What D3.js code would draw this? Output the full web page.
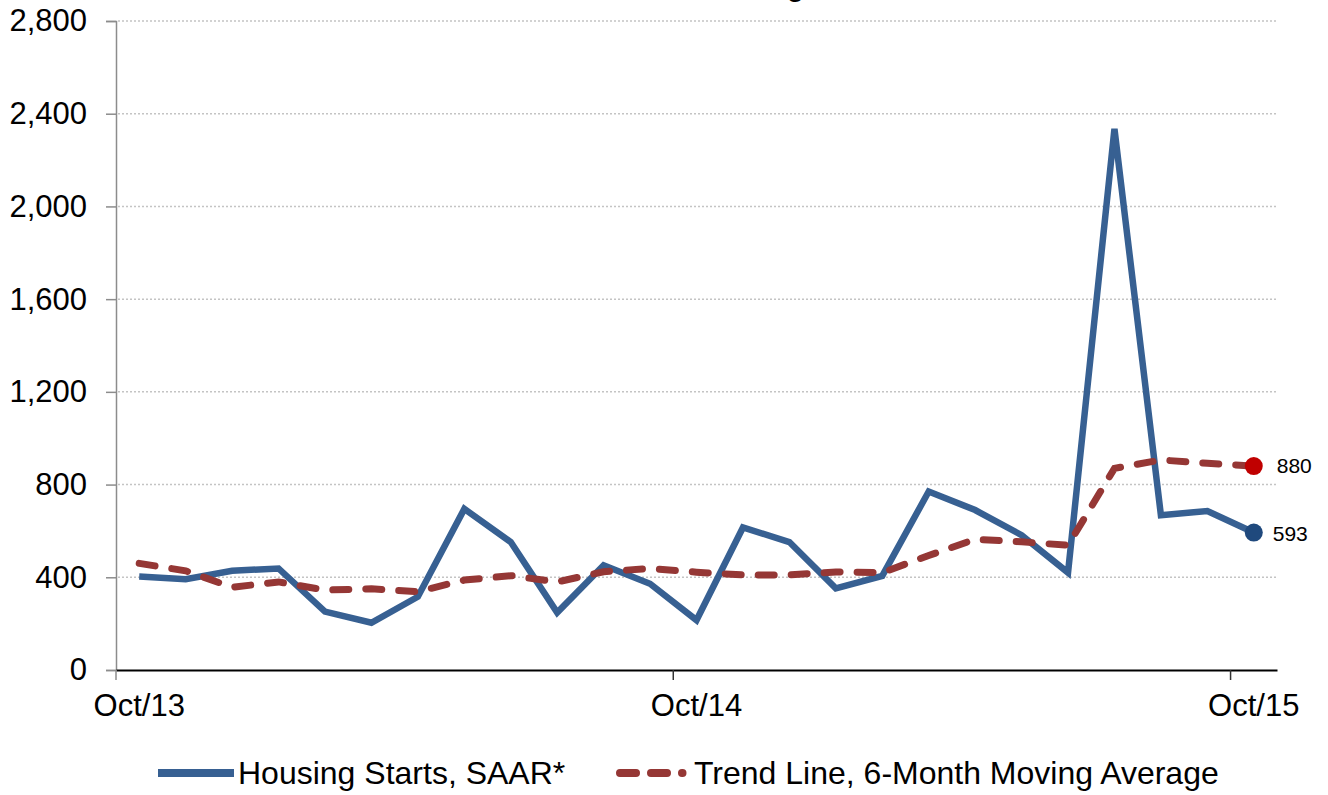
<!DOCTYPE html>
<html>
<head>
<meta charset="utf-8">
<script src="https://cdn.jsdelivr.net/npm/d3@7"></script>
<style>
  html, body { margin: 0; padding: 0; background: #fff; }
  svg { display: block; font-family: "Liberation Sans", Arial, sans-serif; }
</style>
</head>
<body>
<script>
// months on the x axis
let months = ["Oct/13", "Nov/13", "Dec/13", "Jan/14", "Feb/14", "Mar/14", "Apr/14", "May/14",
  "Jun/14", "Jul/14", "Aug/14", "Sep/14", "Oct/14", "Nov/14", "Dec/14", "Jan/15", "Feb/15",
  "Mar/15", "Apr/15", "May/15", "Jun/15", "Jul/15", "Aug/15", "Sep/15", "Oct/15"];
// housing starts, SAAR
let starts = [403, 392, 428, 438, 252, 204, 316, 695, 552, 248, 452, 372, 215, 615, 552,
  352, 406, 770, 690, 582, 420, 2335, 668, 686, 593];
// 6-month moving average
let trend = [460, 428, 357, 380, 345, 350, 338, 388, 407, 380, 424, 438, 422, 410, 410,
  423, 420, 494, 564, 553, 538, 870, 906, 892, 880];
let xTicks = ["Oct/13", "Oct/14", "Oct/15"];
let yTicks = [0, 400, 800, 1200, 1600, 2000, 2400, 2800];
let seriesNames = ["Housing Starts, SAAR*", "Trend Line, 6-Month Moving Average"];

let width = 1328, height = 795;
let blue = "#376092", red = "#953735";

let svg = d3.select("body").append("svg")
  .attr("width", width).attr("height", height);

let x = d3.scaleBand().domain(months).range([116, 1277]).paddingInner(0).paddingOuter(0);
let y = d3.scaleLinear().domain([0, 2800]).range([670, 21]);
let cx = d => x(d) + x.bandwidth() / 2;

// title, mostly cut off at the top (as in the original)
svg.append("text")
  .attr("x", 692).attr("y", -4)
  .attr("font-size", 28).attr("font-weight", "bold")
  .text("Housing Starts");

// dotted grid
svg.append("g")
  .selectAll("line")
  .data(yTicks.filter(d => d > 0))
  .join("line")
  .attr("x1", 118).attr("x2", 1277)
  .attr("y1", d => y(d)).attr("y2", d => y(d))
  .attr("stroke", "#c4c4c4").attr("stroke-width", 1.5)
  .attr("stroke-dasharray", "2,2");

// y axis
let yAxis = svg.append("g")
  .attr("transform", "translate(116,0)")
  .call(d3.axisLeft(y).tickValues(yTicks).tickSize(10).tickPadding(19).tickFormat(d3.format(",")));
yAxis.select(".domain").attr("stroke", "#8c8c8c").attr("stroke-width", 1.5);
yAxis.selectAll(".tick line").attr("stroke", "#8c8c8c").attr("stroke-width", 1.5);
yAxis.selectAll("text").attr("font-size", 31).attr("fill", "#000")
  .attr("font-family", "Liberation Sans, Arial, sans-serif");

// x axis: labels centred on months, ticks on band edges
let xAxis = svg.append("g")
  .attr("transform", "translate(0,670)")
  .call(d3.axisBottom(x).tickValues(xTicks).tickSize(0).tickPadding(24));
xAxis.select(".domain").attr("stroke", "#000").attr("stroke-width", 2);
xAxis.selectAll("text").attr("font-size", 31).attr("fill", "#000")
  .attr("font-family", "Liberation Sans, Arial, sans-serif");
svg.append("g")
  .selectAll("line")
  .data(xTicks)
  .join("line")
  .attr("x1", d => x(d)).attr("x2", d => x(d))
  .attr("y1", 670).attr("y2", 680)
  .attr("stroke", d => d === xTicks[0] ? "#8c8c8c" : "#333")
  .attr("stroke-width", 1.5);

// lines
let lineFn = d3.line().x((d, i) => cx(months[i])).y(d => y(d));
svg.append("path")
  .datum(starts)
  .attr("d", lineFn)
  .attr("fill", "none").attr("stroke", blue)
  .attr("stroke-width", 6.5).attr("stroke-linejoin", "miter");

svg.append("path")
  .datum(trend)
  .attr("d", lineFn)
  .attr("fill", "none").attr("stroke", red)
  .attr("stroke-width", 7).attr("stroke-linecap", "round")
  .attr("stroke-dasharray", "16,17");

// end points
let last = months.length - 1;
svg.append("circle")
  .attr("cx", cx(months[last])).attr("cy", y(trend[last])).attr("r", 9)
  .attr("fill", "#c00000");
svg.append("circle")
  .attr("cx", cx(months[last])).attr("cy", y(starts[last])).attr("r", 9)
  .attr("fill", "#1f497d");
svg.append("text")
  .attr("x", cx(months[last]) + 23).attr("y", y(trend[last]) + 7)
  .attr("font-size", 21).text(d3.format(",")(trend[last]));
svg.append("text")
  .attr("x", cx(months[last]) + 19).attr("y", y(starts[last]) + 8)
  .attr("font-size", 21).text(d3.format(",")(starts[last]));

// legend
let legend = svg.append("g");
legend.append("line")
  .attr("x1", 158).attr("x2", 234).attr("y1", 773).attr("y2", 773)
  .attr("stroke", blue).attr("stroke-width", 8);
legend.append("text")
  .attr("x", 238).attr("y", 784).attr("font-size", 32).text(seriesNames[0]);
legend.append("line")
  .attr("x1", 620).attr("x2", 682.5).attr("y1", 773).attr("y2", 773)
  .attr("stroke", red).attr("stroke-width", 8)
  .attr("stroke-linecap", "round").attr("stroke-dasharray", "16,15");
legend.append("text")
  .attr("x", 694).attr("y", 784).attr("font-size", 32).text(seriesNames[1]);
</script>
</body>
</html>
